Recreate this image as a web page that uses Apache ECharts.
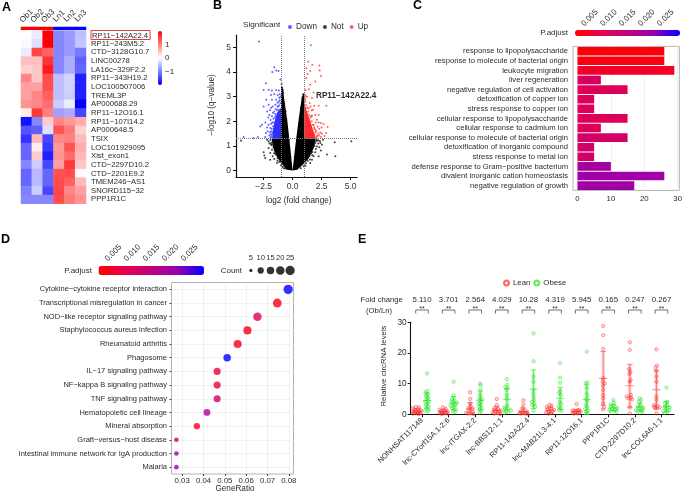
<!DOCTYPE html>
<html>
<head>
<meta charset="utf-8">
<style>html,body{margin:0;padding:0;background:#fff}#chart{width:685px;height:492px}</style>
<script src="https://cdn.jsdelivr.net/npm/echarts@6/dist/echarts.min.js"></script>
</head>
<body>
<div id="chart"></div>
<script>
// A: heatmap
const heatSamples = ['Ob1', 'Ob2', 'Ob3', 'Ln1', 'Ln2', 'Ln3']
const heatGroups = [2, 2, 2, -2, -2, -2]
const heatGenes = ['RP11−142A22.4', 'RP11−243M5.2', 'CTD−3128G10.7', 'LINC00278', 'LA16c−329F2.2',
  'RP11−343H19.2', 'LOC100507006', 'TREML3P', 'AP000688.29', 'RP11−12O16.1', 'RP11−107I14.2',
  'AP000648.5', 'TSIX', 'LOC101929095', 'Xist_exon1', 'CTD−2297D10.2', 'CTD−2201E9.2',
  'TMEM246−AS1', 'SNORD115−32', 'PPP1R1C']
const heatValues = [
  [0, -0.15, 2, -0.95, -0.8, -0.5],
  [-0.05, -0.25, 2, -0.95, -0.8, -0.45],
  [-0.15, 1.45, 1.25, -0.95, -0.8, -1.05],
  [0.5, 0.5, 1.6, -0.95, -0.65, -1.25],
  [0.35, 0.45, 1.8, -0.95, -0.65, -1.2],
  [0.95, 0.45, 1.4, -0.5, -0.35, -1.75],
  [0.75, 0.75, 1.4, -0.5, -0.35, -1.75],
  [0.75, 0.95, 1.25, -0.5, -0.4, -1.75],
  [0.85, 0.95, 1.15, -0.4, -0.15, -2],
  [0.15, 1.55, 1, -0.75, -0.65, -1.45],
  [-1.85, -0.95, 0.4, 0.95, 0.8, 0.65],
  [-1.35, -1.25, -0.25, 1.35, 1.05, 0.35],
  [-1.6, 0.55, -1.45, 0.95, 1, 0.55],
  [-1.2, 0.15, -1.55, 0.8, 1.35, 0.65],
  [-1.2, 0.4, -1.75, 0.85, 1.15, 0.55],
  [-0.95, -0.4, -1.45, 0.75, 1.55, 0.45],
  [-1.2, -0.55, -1.2, 1.35, 1.4, 0.05],
  [-1.2, -0.55, -1.2, 1.4, 1.25, 0.55],
  [-1, -0.4, -1.45, 1.45, 0.95, 0.75],
  [-0.95, -0.95, -0.95, 1.4, 1.05, 0.85]
]

// B: volcano. The points in the dense middle cannot be read one by one,
// so those parts are outlines in data units, the rest are single points
const notOutline = [[0, 0], [-0.5, 0.03], [-1, 0.3], [-1.4, 0.6], [-1.7, 0.95], [-1.8, 1.3], [-1, 1.3], [-1, 3.4],
  [-0.85, 3.4], [-0.75, 3], [-0.45, 2], [-0.22, 1], [0, 0], [0.23, 1], [0.5, 2], [0.8, 3], [1, 3.15], [1, 1.3],
  [2, 1.3], [1.8, 0.9], [1.4, 0.5], [0.9, 0.25], [0.4, 0.03]]
const downOutline = [[-1, 1.3], [-1.75, 1.3], [-1.72, 1.6], [-1.55, 2], [-1.35, 2.35], [-1, 2.55]]
const upOutline = [[1, 1.3], [2, 1.3], [1.8, 1.6], [1.5, 2.05], [1.2, 2.45], [1, 2.75]]
const downPoints = [[-2.9, 5.24], [-1.58, 4.19], [-1.75, 4], [-1.41, 4.06], [-1.21, 4.04], [-1.06, 3.7], [-2.3, 3.54],
  [-2.5, 3.27], [-2.07, 3.27], [-1.78, 3.25], [-1.41, 3.27], [-1.18, 3.25], [-1.87, 3.07], [-1.58, 3.11], [-1.29, 3.07],
  [-2.27, 2.87], [-1.78, 2.87], [-1.41, 2.87], [-2.5, 2.6], [-2.07, 2.67], [-1.72, 2.6], [-1.49, 2.67], [-1.29, 2.6],
  [-1.06, 2.74], [-1.58, 2.4], [-1.2, 2.47], [-2, 2.26], [-1.78, 2.2], [-2.64, 1.86], [-2.79, 1.79], [-2.07, 1.86],
  [-1.92, 1.73], [-2.3, 1.52], [-1.87, 1.46], [-1.78, 1.36], [-2.36, 1.36], [-3, 1.36], [-4.22, 1.36], [-3.36, 1.32],
  [-1.9, 2.05], [-1.85, 1.9], [-1.8, 1.7], [-1.65, 2.1], [-1.5, 2.3], [-1.95, 1.55], [-1.7, 2.35], [-1.45, 2.5],
  [-1.8, 1.45], [-1.85, 1.6], [-1.75, 1.55], [-1.68, 1.8], [-1.62, 1.95], [-1.75, 1.95], [-1.55, 2.15], [-1.45, 2.2],
  [-1.35, 2.45], [-1.25, 2.6], [-1.15, 2.65], [-1.1, 2.85], [-1.2, 2.8], [-1.05, 3], [-1.1, 3.1], [-1.15, 2.95],
  [-1.3, 2.75], [-1.9, 1.35], [-2, 1.42], [-2.15, 1.6], [-2.2, 1.75], [-2.35, 1.95], [-2.1, 2.15], [-1.95, 2.45],
  [-1.85, 2.55], [-2.2, 2.4]]
const notPoints = [[-4.45, 1.21], [-2.07, 1.19], [-1.87, 1.12], [-2.5, 0.74], [-2.44, 0.61], [-2.36, 0.51], [-1.93, 0.44],
  [-1.72, 0.58], [-1.58, 0.47], [-2.07, 0.92], [-2.2, 1.25], [-1.78, 0.85], [-1.93, 0.71], [-1.35, 0.31], [-1.49, 0.71],
  [3.62, 1.15], [5.06, 1.19], [3.68, 0.58], [2.96, 0.65], [2.53, 1.05], [2.39, 1.12], [2.1, 1.25], [2.44, 0.82],
  [1.95, 0.74], [2.24, 0.58], [1.81, 0.58], [1.67, 0.44], [2.1, 0.98], [1.95, 1.12], [2.62, 1.25], [1.52, 0.31],
  [-0.95, 3.5], [-0.9, 3.3], [-0.82, 3.15], [0.9, 3.1], [0.85, 2.95], [-1.9, 1.25], [-1.85, 1.05], [-2, 1.1],
  [-1.6, 0.7], [-1.3, 0.4], [1.7, 0.75], [1.9, 1], [2.2, 1.1], [2.3, 0.95], [1.5, 0.45], [1.1, 0.2], [-0.75, 0.1],
  [-1.75, 1.15], [-1.8, 1.05], [-1.65, 0.95], [-1.55, 0.8], [-1.5, 0.85], [-1.45, 0.65], [-1.3, 0.5], [-1.15, 0.35],
  [-1, 0.22], [-0.85, 0.15], [-0.65, 0.08], [-1.65, 1.2], [2.05, 1.2], [1.9, 1.2], [1.85, 1.05], [1.75, 0.95],
  [1.6, 0.7], [1.45, 0.6], [1.3, 0.4], [1.15, 0.3], [0.95, 0.18], [0.7, 0.1], [2.2, 1.22], [2.35, 1.2], [2, 0.88],
  [1.7, 0.62], [-0.3, 0.62], [-0.18, 0.55], [0.18, 0.55], [0.3, 0.9], [-0.32, 1.25], [0.35, 1.3], [-0.55, 2.1],
  [0.62, 2.15], [-0.6, 2.4], [0.7, 2.55], [-0.72, 2.7], [-0.85, 3.25]]
const upPoints = [[1.58, 5.08], [1.35, 4.42], [1.7, 4.29], [1.18, 4.15], [2.3, 4.26], [2.44, 3.84], [2.33, 4.06], [1.52, 4.04],
  [1.29, 3.92], [1.95, 3.61], [1.18, 3.75], [1.52, 3.48], [1.41, 3.3], [1.12, 3.27], [1.81, 3.17], [1.24, 3], [1.67, 2.94],
  [2.9, 2.63], [1.87, 2.63], [2.24, 2.63], [1.12, 2.8], [1.47, 2.74], [1.38, 2.53], [1.75, 2.47], [1.95, 2.26], [1.67, 2.22],
  [2.24, 2.26], [2.1, 2.06], [2.44, 1.93], [2.67, 1.89], [1.81, 1.86], [2.16, 1.79], [3.02, 1.77], [1.95, 1.66], [2.39, 1.55],
  [2.53, 1.5], [2.9, 1.52], [2.1, 1.39], [2.44, 1.36], [2.05, 1.6], [1.9, 1.45], [2.2, 1.5], [1.6, 2.2], [1.85, 1.75],
  [2.05, 1.35], [2.15, 1.42], [1.95, 1.55], [1.9, 1.7], [1.75, 1.85], [1.65, 2], [1.55, 2.15], [1.45, 2.25], [1.35, 2.4],
  [1.25, 2.55], [1.15, 2.65], [1.08, 2.9], [1.05, 3], [1.1, 3.05], [2.3, 1.7], [2.5, 1.75], [2.25, 1.95], [2, 1.95],
  [1.55, 2.6], [1.65, 2.45], [2.75, 1.4], [2.3, 1.42]]

// C: enrichment bars
const goTerms = ['response to lipopolysaccharide', 'response to molecule of bacterial origin', 'leukocyte migration',
  'liver regeneration', 'negative regulation of cell activation', 'detoxification of copper ion',
  'stress response to copper ion', 'cellular response to lipopolysaccharide', 'cellular response to cadmium ion',
  'cellular response to molecule of bacterial origin', 'detoxification of inorganic compound',
  'stress response to metal ion', 'defense response to Gram−positive bacterium',
  'divalent inorganic cation homeostasis', 'negative regulation of growth']
const goCounts = [26, 26, 29, 7, 15, 5, 5, 15, 7, 15, 5, 5, 10, 26, 17]
const goAdjust = [0.0008, 0.0012, 0.0035, 0.0095, 0.0085, 0.009, 0.009, 0.0085, 0.0085, 0.0105, 0.011, 0.011, 0.018, 0.019, 0.019]
const adjustTicks = [0.005, 0.01, 0.015, 0.02, 0.025]
const adjustMax = 0.0277

// D: pathway dots
const keggTerms = ['Cytokine−cytokine receptor interaction', 'Transcriptional misregulation in cancer',
  'NOD−like receptor signaling pathway', 'Staphylococcus aureus infection', 'Rheumatoid arthritis', 'Phagosome',
  'IL−17 signaling pathway', 'NF−kappa B signaling pathway', 'TNF signaling pathway', 'Hematopoietic cell lineage',
  'Mineral absorption', 'Graft−versus−host disease', 'Intestinal immune network for IgA production', 'Malaria']
const keggRatio = [0.0797, 0.0746, 0.0653, 0.0606, 0.056, 0.0511, 0.0464, 0.0464, 0.0464, 0.0416, 0.0369, 0.0273, 0.0273, 0.0273]
const keggCounts = [25, 22, 20, 18, 18, 15, 13, 13, 13, 12, 10, 6, 6, 6]
const keggAdjust = [0.0277, 0.002, 0.009, 0.002, 0.002, 0.0277, 0.005, 0.005, 0.011, 0.017, 0.002, 0.012, 0.02, 0.02]
const countLegend = [5, 10, 15, 20, 25]

// E: qPCR levels
const rnaNames = ['NONHSAT117148', 'lnc-CYorf15A.1-2:6', 'lnc-ITGAX-2:2', 'lnc-BBS12-1:1', 'RP11-142A22.4',
  'lnc-MAB21L3-4:1', 'RP11-12O16.1', 'PPP1R1C', 'CTD-2297D10.2', 'lnc-COL6A6-1:1']
const foldChanges = ['5.110', '3.701', '2.564', '4.029', '10.28', '4.319', '5.945', '0.165', '0.247', '0.267']
const leanLevels = [
  [2.4, 2.3, 2, 1.7, 1.5, 1.3, 1.1, 1, 0.8, 0.7, 0.6, 0.5, 0.4, 0.3, 0.2, 0.1],
  [2.3, 1.8, 1.5, 1.2, 1, 0.9, 0.8, 0.6, 0.5, 0.4, 0.3, 0.2, 0.1],
  [7.2, 5, 3.5, 2.5, 2, 1.8, 1.2, 0.8, 0.5, 0.3, 0.2, 0.1],
  [5, 3, 2, 1.7, 1.4, 1.2, 1, 0.8, 0.6, 0.4, 0.2, 0.1],
  [4.6, 3.2, 2, 1.2, 0.9, 0.7, 0.6, 0.5, 0.4, 0.3, 0.2, 0.1],
  [3.1, 2.8, 2.4, 2, 1.6, 1.4, 1.1, 0.9, 0.6, 0.4, 0.2],
  [3.3, 1.4, 1.3, 1.2, 1, 0.9, 0.8, 0.6, 0.5, 0.3, 0.2],
  [28.8, 25.8, 21.3, 11.7, 10.6, 10.1, 9.3, 7.9, 6.3, 5.2, 3.6, 2.2, 1.6],
  [23.5, 21, 14.7, 13.9, 13.2, 11.2, 10.6, 6.3, 5.8, 5.4, 5.2, 4.9, 2.2, 0.3],
  [21.2, 15.9, 15.2, 14.1, 12.3, 10.6, 5.8, 4.7, 3, 2.7, 2.4, 2.2, 2, 0.3]
]
const obeseLevels = [
  [13.3, 7.6, 7.2, 6.5, 6, 5.5, 5, 4.3, 4, 3.5, 3, 2.5, 2, 1.5, 1.2, 1],
  [10.6, 6.2, 5, 4.6, 4.2, 3.8, 3.5, 3.2, 2.8, 2.5, 2, 1.5, 1, 0.8],
  [10, 9.5, 8, 6.5, 5.5, 5, 4.5, 4, 3.5, 3, 2.5, 2, 1.5, 1, 0.6],
  [11.5, 9.6, 9, 8.5, 8, 6.3, 5, 3, 2.3, 2, 1.7, 1.3, 1, 0.7, 0.5],
  [26.4, 17.3, 12.3, 10.6, 8, 6.8, 5.8, 4.7, 4.1, 3.4, 3, 2.5, 1.1],
  [16.7, 12, 10.3, 7.6, 7, 6.3, 4.1, 3.4, 2.5, 2, 1.4, 1.1],
  [20.4, 10.4, 10.1, 8.5, 6.8, 5.8, 4.9, 4.1, 3, 2.5, 1.7, 1.3, 0.9, 0.3],
  [4.7, 3.8, 3.2, 2.8, 2.4, 2, 1.8, 1.6, 1.4, 1.2, 1, 0.8],
  [5.2, 4.7, 4.1, 3, 2.5, 2.2, 2, 1.6, 1.3, 1.1, 0.9, 0.7],
  [8.7, 4.1, 3.6, 3, 2.5, 2.2, 2, 1.4, 1.1, 0.9, 0.5]
]
const leanMean = [1, 0.9, 1.8, 1.3, 0.9, 1.3, 0.9, 11.7, 9.3, 8]
const leanSd = [0.8, 0.7, 2, 1.3, 1.2, 1, 0.8, 8.8, 7, 6.3]
const obeseMean = [4.5, 3.6, 4.6, 4.9, 8.2, 5.2, 4.8, 2.1, 2.4, 2.5]
const obeseSd = [2.5, 2.2, 3, 3.5, 6.3, 3.6, 4.8, 1, 1.3, 1.7]

const FONT = 'Liberation Sans'
const INK = '#2b2b2b'
const adjustColors = ['#ff0000', '#e6004e', '#c1007c', '#9400b3', '#0000ff']

const countSize = c => 3.3 + 6 * Math.sqrt((c - 5) / 20)
const minusText = s => String(s).replace('-', '−')

// hides an axis that is only there because a grid needs one
const bareAxis = (gridIndex, extra) => Object.assign({
  gridIndex, show: false, splitLine: { show: false }
}, extra)

const text = (x, y, t, o) => ({
  type: 'text', x, y, silent: true, rotation: (o && o.rotation) || 0,
  style: {
    text: t, fontFamily: FONT, fontSize: (o && o.size) || 9, fontWeight: (o && o.weight) || 'normal',
    fill: (o && o.color) || INK, align: (o && o.align) || 'left', verticalAlign: 'middle'
  }
})

// polygon through the axis scales, for the dense volcano parts
const cloud = (name, outline, color) => ({
  name, type: 'custom', xAxisIndex: 3, yAxisIndex: 3, data: [[0]], silent: true, z: 2,
  renderItem: (params, api) => ({
    type: 'polygon',
    shape: { points: outline.map(p => api.coord(p)) },
    style: { fill: color }
  })
})

const dots = (name, points, color, z) => ({
  name, type: 'scatter', xAxisIndex: 3, yAxisIndex: 3, data: points, symbolSize: 2,
  itemStyle: { color }, z: z, silent: true
})

// sideways spread only, the levels are as read
function swarm (levels, index, side) {
  return levels.map((y, i) => {
    const near = levels.filter(v => Math.abs(v - y) < 0.9).length
    const spread = Math.min(near - 1, 5) * 0.03
    const turn = (i % 2 ? 1 : -1) * ((i % 3 + 1) / 3)
    return [index + side + spread * turn, y]
  })
}

const groupDots = (name, all, side, color, fill) => ({
  name, type: 'scatter', xAxisIndex: 9, yAxisIndex: 9, symbolSize: 3.3, silent: true, clip: false, z: 4,
  data: all.flatMap((levels, i) => swarm(levels, i, side)),
  itemStyle: { color: fill, borderColor: color, borderWidth: 0.7, opacity: 0.65 }
})

const groupBars = (means, sds, side, color, pale) => ({
  type: 'custom', xAxisIndex: 9, yAxisIndex: 9, silent: true, z: 3, clip: false,
  data: means.map((m, i) => [i + side, m, sds[i]]),
  renderItem: (params, api) => {
    const m = api.value(1)
    const sd = api.value(2)
    const top = api.coord([api.value(0), m + sd])
    const mid = api.coord([api.value(0), m])
    const low = api.coord([api.value(0), Math.max(m - sd, 0)])
    const line = (x1, y1, x2, y2) => ({ type: 'line', shape: { x1, y1, x2, y2 }, style: { stroke: color, lineWidth: 0.7 } })
    return {
      type: 'group',
      children: [
        { type: 'rect', shape: { x: top[0] - 1.7, y: top[1], width: 3.4, height: low[1] - top[1] }, style: { fill: pale } },
        line(top[0], top[1], low[0], low[1]),
        line(top[0] - 2.8, top[1], top[0] + 2.8, top[1]),
        line(low[0] - 2.8, low[1], low[0] + 2.8, low[1]),
        line(mid[0] - 4.2, mid[1], mid[0] + 4.2, mid[1])
      ]
    }
  }
})

const legendScale = (gridIndex, margin) => bareAxis(gridIndex, {
  show: true, type: 'value', position: 'top', min: 0, max: adjustMax, z: 10,
  axisLine: { show: false },
  axisTick: { inside: true, length: 2, lineStyle: { color: '#fff' }, customValues: adjustTicks },
  axisLabel: {
    rotate: 45, fontSize: 8, color: INK, margin, customValues: adjustTicks, align: 'right', verticalAlign: 'top',
    formatter: v => v.toFixed(3)
  }
})
const adjustMap = (seriesIndex, dimension, left, top, width, thick) => ({
  type: 'continuous', orient: 'horizontal', seriesIndex, dimension, min: 0, max: adjustMax, left, top,
  itemWidth: thick, itemHeight: width, padding: 0, text: null, calculable: false, hoverLink: false,
  inRange: { color: adjustColors }
})

const option = {
  animation: false,
  backgroundColor: '#fff',
  textStyle: { fontFamily: FONT },
  grid: [
    { left: 21, top: 30.7, width: 65, height: 173 }, // 0 heat
    { left: 21, top: 27, width: 65, height: 2.8 }, // 1 heat groups
    { left: 158, top: 31, width: 4, height: 54 }, // 2 heat colour scale
    { left: 236, top: 35, width: 121, height: 142 }, // 3 volcano
    { left: 573, top: 46.4, width: 109, height: 144, show: true, borderColor: '#b3b3b3', borderWidth: 1 }, // 4 bars
    { left: 575, top: 30, width: 105, height: 6 }, // 5 bars colour scale
    { left: 171.5, top: 282.5, width: 122, height: 191.5, show: true, borderColor: '#b3b3b3', borderWidth: 1 }, // 6 dots
    { left: 98.5, top: 266, width: 105.5, height: 9 }, // 7 dots colour scale
    { left: 246, top: 264, width: 49, height: 13 }, // 8 count legend
    { left: 410.7, top: 322.3, width: 263.3, height: 92 }, // 9 levels
    { left: 410.7, top: 296, width: 263.3, height: 20 } // 10 fold change brackets
  ],
  xAxis: [
    { gridIndex: 0, type: 'category', data: heatSamples, show: false },
    {
      gridIndex: 1, type: 'category', data: heatSamples, position: 'top',
      axisLine: { show: false }, axisTick: { show: false },
      axisLabel: { rotate: 45, fontSize: 8, color: INK, margin: 11, interval: 0, align: 'center', verticalAlign: 'middle' }
    },
    bareAxis(2, { type: 'value', min: 0, max: 1 }),
    {
      gridIndex: 3, type: 'value', min: -4.88, max: 5.55, splitLine: { show: false },
      axisLine: { onZero: false, lineStyle: { color: '#111', width: 1.2 } },
      axisTick: { length: 3, lineStyle: { color: '#111' }, customValues: [-2.5, 0, 2.5, 5] },
      axisLabel: {
        fontSize: 8.5, color: '#333', margin: 5, customValues: [-2.5, 0, 2.5, 5],
        formatter: v => minusText(v.toFixed(1))
      }
    },
    {
      gridIndex: 4, type: 'value', min: -1.35, max: 30.5,
      splitLine: { lineStyle: { color: '#ededed', width: 0.8 } },
      axisLine: { show: false, onZero: false },
      axisTick: { length: 2, lineStyle: { color: '#444' }, customValues: [0, 10, 20, 30] },
      axisLabel: { fontSize: 7.8, color: INK, margin: 4, customValues: [0, 10, 20, 30] }
    },
    legendScale(5, 22),
    {
      gridIndex: 6, type: 'value', min: 0.025, max: 0.0822,
      splitLine: { lineStyle: { color: '#ededed', width: 0.8 } },
      axisLine: { show: false, onZero: false },
      axisTick: { length: 2, lineStyle: { color: '#444' }, customValues: [0.03, 0.04, 0.05, 0.06, 0.07, 0.08] },
      axisLabel: {
        fontSize: 7.8, color: INK, margin: 3, customValues: [0.03, 0.04, 0.05, 0.06, 0.07, 0.08],
        formatter: v => v.toFixed(2)
      }
    },
    legendScale(7, 23),
    {
      gridIndex: 8, type: 'category', data: countLegend, position: 'top',
      axisLine: { show: false }, axisTick: { show: false },
      axisLabel: { fontSize: 7.6, color: INK, margin: 2, interval: 0 }
    },
    {
      gridIndex: 9, type: 'value', min: -0.425, max: 9.47, splitLine: { show: false },
      axisLine: { onZero: false, lineStyle: { color: '#111', width: 1.1 } },
      axisTick: { length: 3, lineStyle: { color: '#111' }, customValues: rnaNames.map((n, i) => i) },
      axisLabel: {
        rotate: 45, fontSize: 7.5, color: INK, margin: 5, customValues: rnaNames.map((n, i) => i),
        formatter: v => rnaNames[v]
      }
    },
    bareAxis(10, { type: 'value', min: -0.425, max: 9.47 })
  ],
  yAxis: [
    {
      gridIndex: 0, type: 'category', data: heatGenes, inverse: true, position: 'right',
      axisLine: { show: false }, axisTick: { show: false },
      axisLabel: {
        fontSize: 7.7, color: INK, margin: 5, interval: 0,
        formatter: v => (v === heatGenes[0] ? '{box|' + v + '}' : v),
        rich: { box: { fontFamily: FONT, fontSize: 7.7, color: INK, borderColor: '#e8383d', borderWidth: 1, padding: [1, 2, 0, 1] } }
      }
    },
    bareAxis(1, { type: 'value', min: 0, max: 1 }),
    bareAxis(2, {
      show: true, type: 'value', min: -2, max: 2, position: 'right',
      axisLine: { show: false },
      axisTick: { show: false },
      axisLabel: { fontSize: 8, color: INK, margin: 3, customValues: [-1, 0, 1], formatter: v => minusText(v) }
    }),
    {
      gridIndex: 3, type: 'value', min: -0.26, max: 5.5, splitLine: { show: false },
      axisLine: { onZero: false, lineStyle: { color: '#111', width: 1.2 } },
      axisTick: { length: 3, lineStyle: { color: '#111' }, customValues: [0, 1, 2, 3, 4, 5] },
      axisLabel: { fontSize: 8.5, color: '#333', margin: 5, customValues: [0, 1, 2, 3, 4, 5] }
    },
    {
      gridIndex: 4, type: 'category', data: goTerms, inverse: true,
      axisLine: { show: false, onZero: false },
      axisTick: { length: 2, lineStyle: { color: '#444' } },
      axisLabel: { fontSize: 7.65, color: INK, margin: 5, interval: 0 }
    },
    bareAxis(5, { type: 'value', min: 0, max: 1 }),
    {
      gridIndex: 6, type: 'value', inverse: true, min: -0.5, max: 13.5,
      splitLine: { lineStyle: { color: '#ededed', width: 0.8 } },
      axisLine: { show: false, onZero: false },
      axisTick: { length: 2, lineStyle: { color: '#444' }, customValues: keggTerms.map((n, i) => i) },
      axisLabel: {
        fontSize: 7.5, color: INK, margin: 4.5, customValues: keggTerms.map((n, i) => i),
        formatter: v => keggTerms[v]
      }
    },
    bareAxis(7, { type: 'value', min: 0, max: 1 }),
    bareAxis(8, { type: 'value', min: 0, max: 1 }),
    {
      gridIndex: 9, type: 'value', min: 0, max: 30, interval: 10, splitLine: { show: false },
      axisLine: { onZero: false, lineStyle: { color: '#111', width: 1.1 } },
      axisTick: { length: 3, lineStyle: { color: '#111' } },
      axisLabel: { fontSize: 8.3, color: INK, margin: 4 }
    },
    bareAxis(10, { type: 'value', min: 0, max: 1 })
  ],
  visualMap: [
    {
      type: 'continuous', seriesIndex: [0, 1], dimension: 2, min: -2, max: 2, left: 158, top: 31, itemWidth: 4, itemHeight: 54,
      padding: 0, text: null, calculable: false, hoverLink: false,
      inRange: { color: ['#0000ff', '#ffffff', '#ff0000'] }
    },
    adjustMap(2, 2, 575, 30, 105, 6),
    adjustMap(3, 3, 98.5, 266, 105.5, 9)
  ],
  legend: [
    {
      left: 288, top: 23, itemWidth: 4, itemHeight: 4, itemGap: 6, padding: 0,
      icon: 'circle', data: ['Down', 'Not', 'Up'],
      textStyle: { fontFamily: FONT, fontSize: 8.2, color: INK, padding: [0, 0, 0, -1] }
    },
    {
      left: 503, top: 279, itemWidth: 5, itemHeight: 5, itemGap: 3, padding: 0,
      icon: 'circle', data: ['Lean', 'Obese'],
      textStyle: { fontFamily: FONT, fontSize: 7.8, color: INK, padding: [0, 0, 0, -1] }
    }
  ],
  series: [
    {
      type: 'heatmap', xAxisIndex: 0, yAxisIndex: 0, silent: true,
      data: heatValues.flatMap((row, r) => row.map((v, c) => [c, r, v]))
    },
    {
      type: 'heatmap', xAxisIndex: 1, yAxisIndex: 1, silent: true,
      data: heatGroups.map((v, c) => [c, 0.5, v])
    },
    {
      type: 'bar', xAxisIndex: 4, yAxisIndex: 4, barWidth: 8.6, silent: true,
      data: goCounts.map((v, i) => [v, goTerms[i], goAdjust[i]])
    },
    {
      type: 'scatter', xAxisIndex: 6, yAxisIndex: 6, silent: true,
      data: keggRatio.map((v, i) => [v, i, keggCounts[i], keggAdjust[i]]),
      symbolSize: d => countSize(d[2])
    },
    {
      type: 'scatter', xAxisIndex: 8, yAxisIndex: 8, silent: true,
      data: countLegend.map((c, i) => [i, 0.5, c]),
      symbolSize: d => countSize(d[2]), itemStyle: { color: '#000' }
    },
    cloud('notCloud', notOutline, '#000'),
    cloud('downCloud', downOutline, '#2f2fff'),
    cloud('upCloud', upOutline, '#ff2a2a'),
    dots('Not', notPoints, '#111', 3),
    Object.assign(dots('Down', downPoints, '#3a3aff', 4), {
      markLine: {
        silent: true, symbol: 'none', label: { show: false },
        lineStyle: { color: '#777', type: 'dotted', width: 1 },
        data: [{ xAxis: -1 }, { xAxis: 1 }, { yAxis: 1.3 }]
      }
    }),
    dots('Up', upPoints, '#ff3a3a', 4),
    groupBars(leanMean, leanSd, -0.19, '#f25a5a', 'rgba(255,90,90,0.28)'),
    groupBars(obeseMean, obeseSd, 0.19, '#3be83b', 'rgba(60,235,60,0.25)'),
    groupDots('Lean', leanLevels, -0.19, '#ff2020', 'rgba(255,60,60,0.25)'),
    groupDots('Obese', obeseLevels, 0.19, '#18e018', 'rgba(40,230,40,0.25)'),
    {
      type: 'custom', xAxisIndex: 10, yAxisIndex: 10, silent: true, clip: false,
      data: foldChanges.map((f, i) => [i]),
      renderItem: (params, api) => {
        const i = api.value(0)
        const p = api.coord([i, 1])
        const cx = p[0]
        const cy = p[1]
        return {
          type: 'group',
          children: [
            {
              type: 'text',
              style: { x: cx, y: cy + 4, text: foldChanges[i], fontFamily: FONT, fontSize: 7.8, fill: INK, align: 'center', verticalAlign: 'middle' }
            },
            {
              type: 'polyline',
              shape: { points: [[cx - 6.3, cy + 17.5], [cx - 6.3, cy + 14], [cx + 6.3, cy + 14], [cx + 6.3, cy + 17.5]] },
              style: { stroke: '#333', lineWidth: 0.7, fill: null }
            },
            {
              type: 'text',
              style: { x: cx, y: cy + 13, text: '**', fontFamily: FONT, fontSize: 7, fill: INK, align: 'center', verticalAlign: 'middle' }
            }
          ]
        }
      }
    }
  ],
  graphic: [
    text(2, 8, 'A', { size: 12.5, weight: 'bold', color: '#000' }),
    text(213, 6, 'B', { size: 12.5, weight: 'bold', color: '#000' }),
    text(413, 6, 'C', { size: 12.5, weight: 'bold', color: '#000' }),
    text(1, 240, 'D', { size: 12.5, weight: 'bold', color: '#000' }),
    text(358, 240, 'E', { size: 12.5, weight: 'bold', color: '#000' }),
    text(243, 25, 'Significant', { size: 8.1 }),
    text(316, 96, 'RP11−142A22.4', { size: 8.2, weight: 'bold' }),
    text(211.5, 105, '−log10 (q−value)', { size: 8.2, align: 'center', rotation: Math.PI / 2 }),
    text(298.7, 201, 'log2 (fold change)', { size: 8.2, align: 'center' }),
    text(568, 33, 'P.adjust', { size: 8, align: 'right' }),
    text(92, 270.5, 'P.adjust', { size: 8, align: 'right' }),
    text(242, 270.5, 'Count', { size: 8, align: 'right' }),
    text(235, 488.5, 'GeneRatio', { size: 8.2, align: 'center' }),
    text(381.7, 299.7, 'Fold change', { size: 7.7, align: 'center' }),
    text(379, 311, '(Ob/Ln)', { size: 7.7, align: 'center' }),
    text(384, 366, 'Relative circRNA levels', { size: 7.8, align: 'center', rotation: Math.PI / 2 })
  ]
}

const chart = echarts.init(document.getElementById('chart'), null, { renderer: 'canvas' })
chart.setOption(option)
</script>
</body>
</html>
